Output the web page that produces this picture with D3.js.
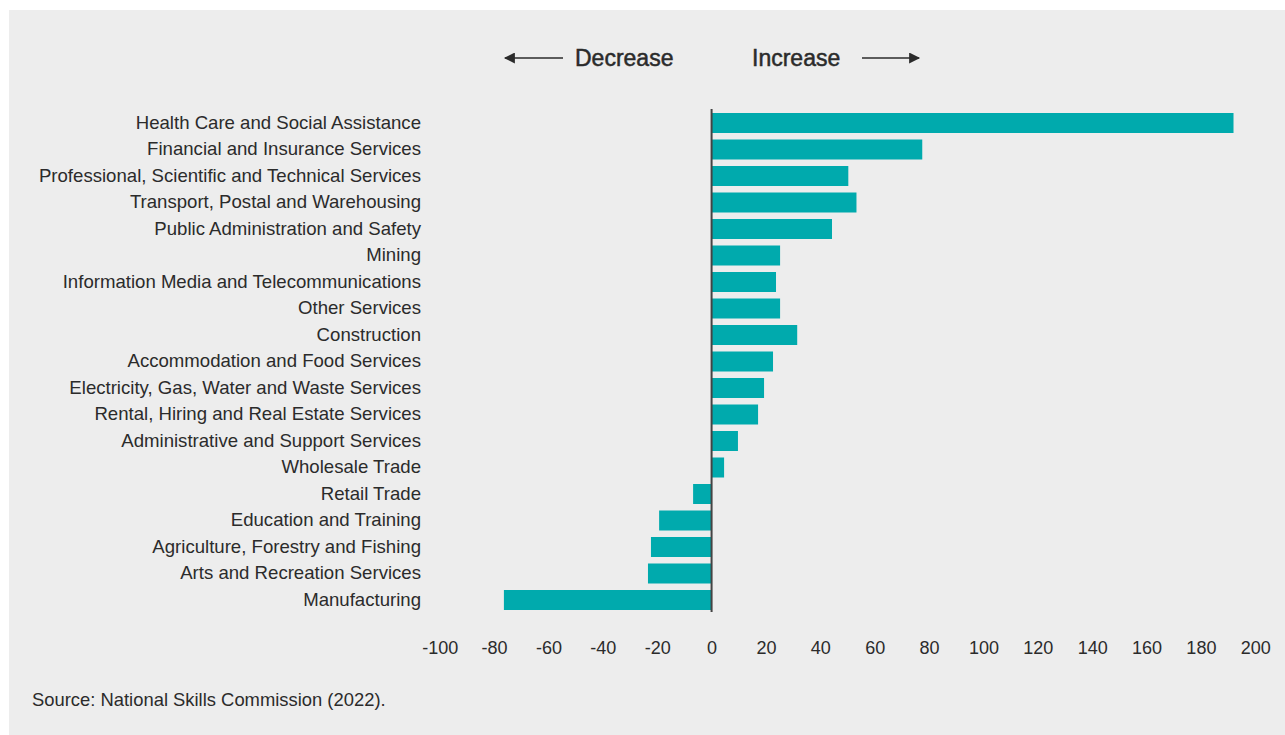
<!DOCTYPE html>
<html>
<head>
<meta charset="utf-8">
<script src="https://cdnjs.cloudflare.com/ajax/libs/d3/7.8.5/d3.min.js"></script>
<style>
  body { margin: 0; background: #fff; }
  svg { display: block; }
  text { font-family: "Liberation Sans", Arial, Helvetica, sans-serif; fill: #2b2b2b; }
</style>
</head>
<body>
<div id="chart"></div>
<script>
const industries = [
  "Health Care and Social Assistance",
  "Financial and Insurance Services",
  "Professional, Scientific and Technical Services",
  "Transport, Postal and Warehousing",
  "Public Administration and Safety",
  "Mining",
  "Information Media and Telecommunications",
  "Other Services",
  "Construction",
  "Accommodation and Food Services",
  "Electricity, Gas, Water and Waste Services",
  "Rental, Hiring and Real Estate Services",
  "Administrative and Support Services",
  "Wholesale Trade",
  "Retail Trade",
  "Education and Training",
  "Agriculture, Forestry and Fishing",
  "Arts and Recreation Services",
  "Manufacturing"
];
const changes = [192, 77.5, 50.3, 53.3, 44.3, 25.2, 23.7, 25.2, 31.5, 22.6, 19.3, 17.1, 9.7, 4.6, -6.8, -19.3, -22.3, -23.4, -76.4];
const tickValues = [-100, -80, -60, -40, -20, 0, 20, 40, 60, 80, 100, 120, 140, 160, 180, 200];

const W = 1285, H = 735;
const svg = d3.select("#chart").append("svg").attr("width", W).attr("height", H);

svg.append("rect").attr("x", 9).attr("y", 10).attr("width", W - 9).attr("height", H - 10).attr("fill", "#ededed");

const x = d3.scaleLinear().domain([-100, 200]).range([439.75, 1255.25]);
const y = d3.scalePoint().domain(industries).range([123, 600]);
const barH = 20;

// bars
svg.selectAll("rect.bar")
  .data(industries)
  .enter()
  .append("rect")
  .attr("class", "bar")
  .attr("x", (d, i) => x(Math.min(0, changes[i])))
  .attr("y", d => y(d) - barH / 2)
  .attr("width", (d, i) => Math.abs(x(changes[i]) - x(0)))
  .attr("height", barH)
  .attr("fill", "#00aaad");

// zero line
svg.append("line")
  .attr("x1", x(0)).attr("x2", x(0))
  .attr("y1", 109).attr("y2", 612)
  .attr("stroke", "#444").attr("stroke-width", 2);

// category labels
svg.selectAll("text.cat")
  .data(industries)
  .enter()
  .append("text")
  .attr("class", "cat")
  .attr("x", 421)
  .attr("y", d => y(d) - 1)
  .attr("dy", "0.35em")
  .attr("text-anchor", "end")
  .attr("font-size", 18.6)
  .text(d => d);

// x axis labels
const xAxis = d3.axisBottom(x).tickValues(tickValues).tickSize(0).tickPadding(0)
  .tickFormat(d => String(d));
const gx = svg.append("g").attr("transform", "translate(0,641)").call(xAxis);
gx.select(".domain").remove();
gx.selectAll("text")
  .attr("font-size", 18)
  .attr("font-family", "'Liberation Sans', Arial, sans-serif")
  .attr("fill", "#2b2b2b")
  .attr("dy", "0.71em");

// direction hints
const arrowY = 58;
const defs = svg.append("defs");
defs.append("marker").attr("id", "head").attr("viewBox", "0 0 10 10")
  .attr("refX", 9).attr("refY", 5).attr("markerWidth", 12).attr("markerHeight", 11)
  .attr("markerUnits", "userSpaceOnUse").attr("orient", "auto")
  .append("path").attr("d", "M0,0 L10,5 L0,10 Z").attr("fill", "#2b2b2b");

svg.append("line").attr("x1", 563).attr("x2", 505).attr("y1", arrowY).attr("y2", arrowY)
  .attr("stroke", "#2b2b2b").attr("stroke-width", 1.5).attr("marker-end", "url(#head)");
svg.append("line").attr("x1", 862).attr("x2", 919).attr("y1", arrowY).attr("y2", arrowY)
  .attr("stroke", "#2b2b2b").attr("stroke-width", 1.5).attr("marker-end", "url(#head)");

svg.append("text").attr("x", 575).attr("y", arrowY).attr("dy", "0.35em")
  .attr("font-size", 23).attr("stroke", "#2b2b2b").attr("stroke-width", 0.5).text("Decrease");
svg.append("text").attr("x", 752).attr("y", arrowY).attr("dy", "0.35em")
  .attr("font-size", 23).attr("stroke", "#2b2b2b").attr("stroke-width", 0.5).text("Increase");

// source
svg.append("text").attr("x", 32).attr("y", 700).attr("dy", "0.35em")
  .attr("font-size", 18.4).text("Source: National Skills Commission (2022).");
</script>
</body>
</html>
